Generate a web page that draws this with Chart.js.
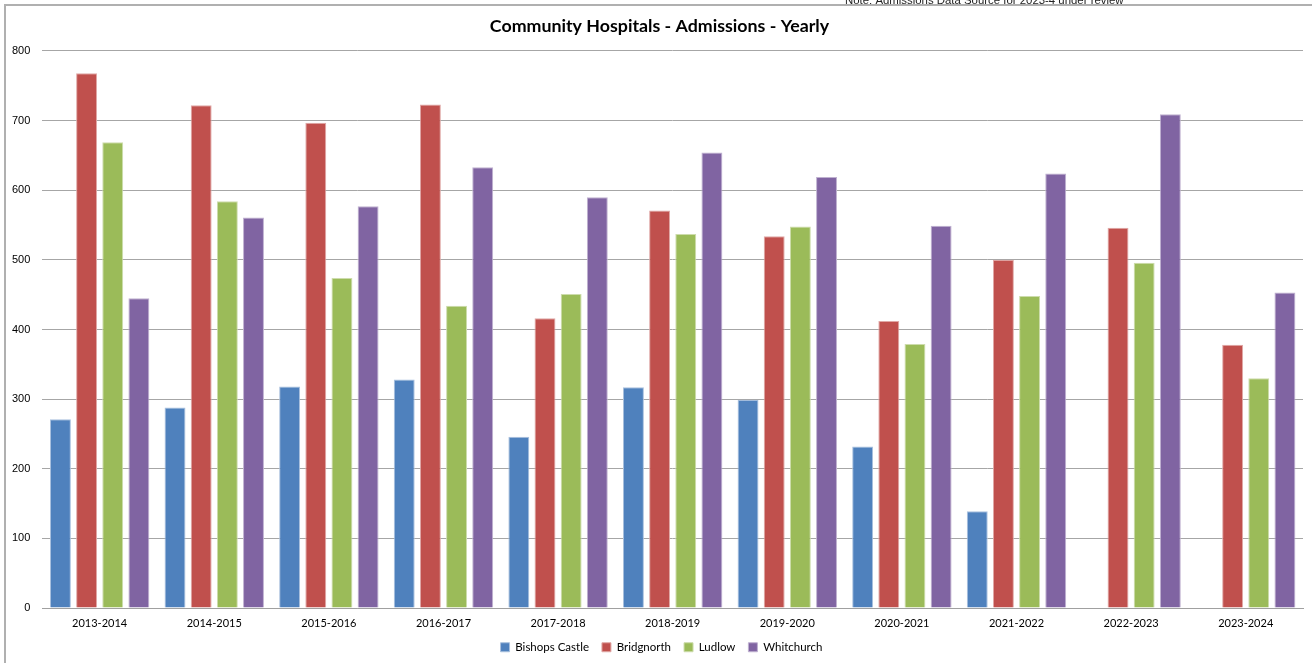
<!DOCTYPE html>
<html>
<head>
<meta charset="utf-8">
<title>Community Hospitals - Admissions - Yearly</title>
<script src="https://cdn.jsdelivr.net/npm/chart.js@4.4.1/dist/chart.umd.min.js"></script>
<style>
  html, body { margin: 0; padding: 0; background: #ffffff; }
  #wrap { width: 1312px; height: 663px; position: relative; }
</style>
</head>
<body>
<div id="wrap"><canvas id="chart" width="1312" height="663"></canvas></div>
<script>
// Financial years shown on the x axis
const years = ['2013-2014', '2014-2015', '2015-2016', '2016-2017', '2017-2018', '2018-2019',
               '2019-2020', '2020-2021', '2021-2022', '2022-2023', '2023-2024'];

// Yearly admissions per community hospital
const bishopsCastle = [271, 288, 318, 328, 246, 317, 299, 232, 139, null, null];
const bridgnorth    = [768, 722, 697, 723, 416, 571, 534, 412, 500, 546, 378];
const ludlow        = [669, 584, 474, 434, 451, 537, 548, 379, 448, 496, 330];
const whitchurch    = [445, 561, 577, 633, 590, 654, 619, 549, 624, 709, 453];

// Value axis range
const yMin = 0, yMax = 800, yStep = 100;

const titleText = 'Community Hospitals - Admissions - Yearly';
const noteText = 'Note: Admissions Data Source for 2023-4 under review';

const sansFont = 'Lato, "Noto Sans", sans-serif';
const arialFont = '"Liberation Sans", Arial, sans-serif';

// Outer frame, the note text above it, and small nudges of the title and legend blocks
const framePlugin = {
  id: 'frame',
  afterLayout(chart) {
    const t = chart.titleBlock;
    if (t) { t.left += 8; t.right += 8; }
    const l = chart.legend;
    if (l) { l.left += 10; l.right += 10; }
  },
  afterDraw(chart) {
    const ctx = chart.ctx;
    ctx.save();
    ctx.font = '11.4px ' + arialFont;
    ctx.fillStyle = '#222222';
    ctx.textBaseline = 'alphabetic';
    ctx.textAlign = 'left';
    ctx.fillText(noteText, 845, 4);
    ctx.strokeStyle = '#b0b0b0';
    ctx.lineWidth = 2;
    ctx.beginPath();
    ctx.moveTo(5, chart.height);
    ctx.lineTo(5, 5);
    ctx.lineTo(chart.width, 5);
    ctx.stroke();
    ctx.restore();
  }
};

const mk = (label, data, color, edge) => ({
  label, data,
  backgroundColor: color,
  borderColor: edge,
  borderWidth: 1,
  categoryPercentage: 0.913,
  barPercentage: 0.8
});

new Chart(document.getElementById('chart'), {
  type: 'bar',
  data: {
    labels: years,
    datasets: [
      mk('Bishops Castle', bishopsCastle, '#4F81BD', '#a9c0de'),
      mk('Bridgnorth', bridgnorth, '#C0504D', '#e0a8a6'),
      mk('Ludlow', ludlow, '#9BBB59', '#cddcac'),
      mk('Whitchurch', whitchurch, '#8064A2', '#bfb1d0')
    ]
  },
  options: {
    responsive: false,
    animation: false,
    layout: { padding: { left: 0, right: 9, top: 0, bottom: 0 } },
    plugins: {
      title: {
        display: true,
        text: titleText,
        color: '#000000',
        font: { family: sansFont, size: 17.8, weight: 'bold' },
        padding: { top: 16, bottom: 13.6 }
      },
      legend: {
        position: 'bottom',
        labels: {
          boxWidth: 9,
          boxHeight: 9,
          padding: 13,
          color: '#000000',
          font: { family: sansFont, size: 11.5 }
        }
      },
      tooltip: { enabled: false }
    },
    scales: {
      x: {
        grid: { display: false, drawTicks: false },
        border: { display: true, color: '#a0a0a0', width: 1 },
        ticks: {
          color: '#000000',
          padding: 9,
          maxRotation: 0,
          font: { family: sansFont, size: 11 }
        },
        afterFit(scale) { scale.height = 20.5; }
      },
      y: {
        min: yMin,
        max: yMax,
        border: { display: false },
        grid: { color: '#a6a6a6', lineWidth: 1, drawTicks: false },
        ticks: {
          stepSize: yStep,
          color: '#000000',
          padding: 12,
          font: { family: arialFont, size: 11 }
        }
      }
    }
  },
  plugins: [framePlugin]
});
</script>
</body>
</html>
